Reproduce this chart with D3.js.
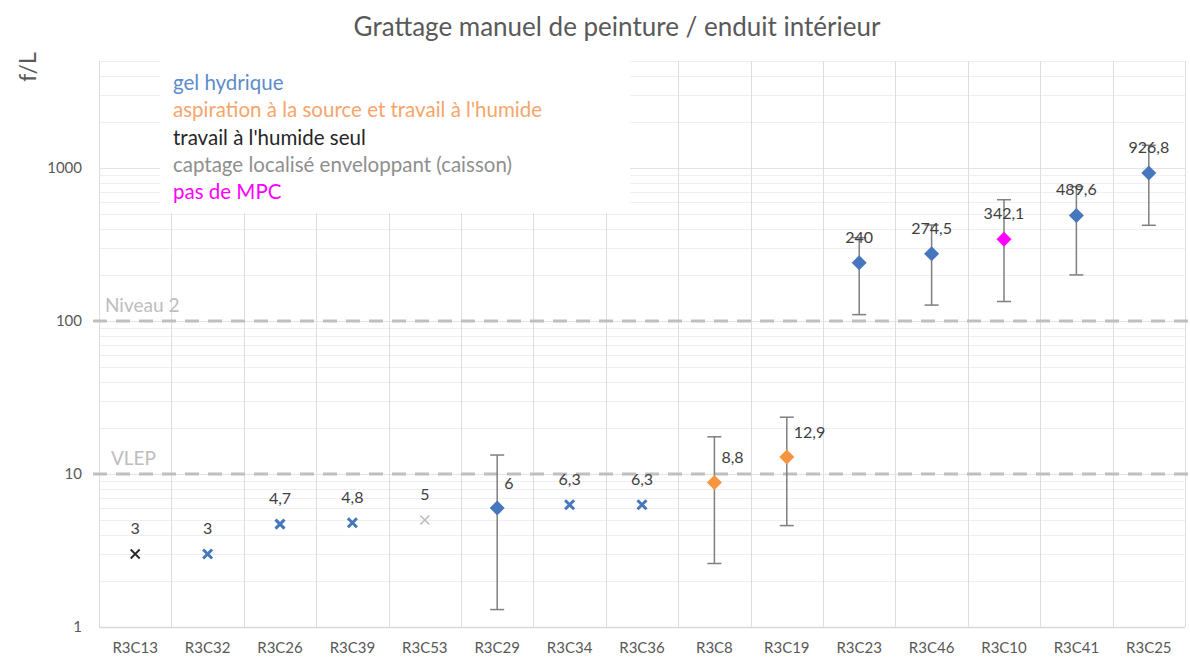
<!DOCTYPE html>
<html><head><meta charset="utf-8">
<script src="https://cdn.jsdelivr.net/npm/d3@7"></script>
<style>
html,body{margin:0;padding:0;background:#fff;}
text{font-family:Lato,"Open Sans",sans-serif;}
</style></head>
<body><svg id="chart" width="1190" height="658"></svg>
<script>
// ---- data ----
const title = "Grattage manuel de peinture / enduit intérieur";
const yLabel = "f/L";
const categories = ["R3C13","R3C32","R3C26","R3C39","R3C53","R3C29","R3C34","R3C36","R3C8","R3C19","R3C23","R3C46","R3C10","R3C41","R3C25"];
const values     = [3, 3, 4.7, 4.8, 5, 6, 6.3, 6.3, 8.8, 12.9, 240, 274.5, 342.1, 489.6, 926.8];
const groups     = ["humide","gel","gel","gel","caisson","gel","gel","gel","aspiration","aspiration","gel","gel","aucune","gel","gel"];
const markerType = ["x","x","x","x","x","diamond","x","x","diamond","diamond","diamond","diamond","diamond","diamond","diamond"];
const errLow     = [null,null,null,null,null,1.3,null,null,2.6,4.6,110,127,134,200,422];
const errHigh    = [null,null,null,null,null,13.3,null,null,17.5,23.5,350,424,620,755,1407];
const yTicks = [1, 10, 100, 1000];
const refLines = [{value:10, label:"VLEP"}, {value:100, label:"Niveau 2"}];
const legendKeys   = ["gel","aspiration","humide","caisson","aucune"];
const legendLabels = ["gel hydrique","aspiration à la source et travail à l'humide","travail à l'humide seul","captage localisé enveloppant (caisson)","pas de MPC"];

// ---- styles ----
const markColor = {gel:"#4677bd", aspiration:"#f79440", humide:"#262626", caisson:"#bcbcbc", aucune:"#ff00ff"};
const legendColor = {gel:"#5d8bcc", aspiration:"#f6a56b", humide:"#262626", caisson:"#8f8f8f", aucune:"#ff00ff"};

const svg = d3.select("#chart");
const pLeft = 99, pRight = 1185, pTop = 61, pBottom = 627;

const x = d3.scaleBand().domain(categories).range([pLeft, pRight]).padding(0);
const y = d3.scaleLog().domain([1, 5000]).range([pBottom, pTop]);

// horizontal gridlines (minor + major)
const gridVals = [];
for (let d = 1; d <= 1000; d *= 10) for (let m = 1; m <= 9; m++) { const v = d*m; if (v <= 5000) gridVals.push(v); }
svg.append("g").selectAll("line").data(gridVals).join("line")
  .attr("x1", pLeft).attr("x2", pRight)
  .attr("y1", d => Math.round(y(d))+0.5).attr("y2", d => Math.round(y(d))+0.5)
  .attr("stroke", d => yTicks.includes(d) ? "#e3e3e3" : "#efefef").attr("stroke-width", 1);

// vertical category gridlines
const bounds = categories.map(c => x(c)).concat([pRight]);
svg.append("g").selectAll("line").data(bounds).join("line")
  .attr("x1", d => Math.round(d)+0.5).attr("x2", d => Math.round(d)+0.5)
  .attr("y1", pTop).attr("y2", pBottom)
  .attr("stroke", "#dedede").attr("stroke-width", 1);

// bottom axis line
svg.append("line").attr("x1", pLeft).attr("x2", pRight).attr("y1", pBottom+0.5).attr("y2", pBottom+0.5)
  .attr("stroke", "#d9d9d9").attr("stroke-width", 1.5);

// legend box (white, covers the gridlines)
const lg = svg.append("g");
lg.append("rect").attr("x", 160).attr("y", pTop).attr("width", 470).attr("height", 152).attr("fill", "#fff");
lg.selectAll("text").data(legendKeys).join("text")
  .attr("x", 173).attr("y", (d,i) => 90 + i*27.3)
  .attr("font-size", 20.5).attr("fill", d => legendColor[d])
  .text((d,i) => legendLabels[i]);

// reference lines
svg.append("g").selectAll("line").data(refLines).join("line")
  .attr("x1", 93).attr("x2", 1190)
  .attr("y1", d => y(d.value)).attr("y2", d => y(d.value))
  .attr("stroke", "#bfbfbf").attr("stroke-width", 3).attr("stroke-dasharray", "14,9");
svg.append("g").selectAll("text").data(refLines).join("text")
  .attr("x", d => d.label === "VLEP" ? 111 : 105)
  .attr("y", d => y(d.value) - 9)
  .attr("font-size", 19).attr("fill", "#bdbdbd").text(d => d.label);

// y axis tick labels
svg.append("g").selectAll("text").data(yTicks).join("text")
  .attr("x", 82).attr("y", d => y(d) + 5).attr("text-anchor", "end")
  .attr("font-size", 15).attr("fill", "#595959").text(d => d);

// x axis labels
svg.append("g").selectAll("text").data(categories).join("text")
  .attr("x", d => x(d) + x.bandwidth()/2).attr("y", 653).attr("text-anchor", "middle")
  .attr("font-size", 15).attr("fill", "#595959").text(d => d);

// title and y label
svg.append("text").attr("x", 617).attr("y", 36).attr("text-anchor", "middle")
  .attr("font-size", 26).attr("fill", "#595959").text(title);
svg.append("text").attr("transform", "translate(36,67) rotate(-90)").attr("text-anchor", "middle")
  .attr("font-size", 23).attr("fill", "#595959").text(yLabel);

// points
const pts = categories.map((c,i) => ({c, v: values[i], g: groups[i], m: markerType[i], lo: errLow[i], hi: errHigh[i]}));
const cx = d => x(d.c) + x.bandwidth()/2;

// error bars
const eb = svg.append("g").selectAll("g").data(pts.filter(d => d.lo != null)).join("g")
  .attr("stroke", "#7f7f7f").attr("stroke-width", 1.5);
eb.append("line").attr("x1", cx).attr("x2", cx).attr("y1", d => y(d.lo)).attr("y2", d => y(d.hi));
eb.append("line").attr("x1", d => cx(d)-7).attr("x2", d => cx(d)+7).attr("y1", d => y(d.lo)).attr("y2", d => y(d.lo));
eb.append("line").attr("x1", d => cx(d)-7).attr("x2", d => cx(d)+7).attr("y1", d => y(d.hi)).attr("y2", d => y(d.hi));

// markers
const mk = svg.append("g").selectAll("g").data(pts).join("g")
  .attr("transform", d => `translate(${cx(d)},${y(d.v)})`);
mk.filter(d => d.m === "diamond").append("path")
  .attr("d", "M0,-7.5L7.5,0L0,7.5L-7.5,0Z").attr("fill", d => markColor[d.g]);
mk.filter(d => d.m === "x").append("path")
  .attr("d", "M-4.5,-4.5L4.5,4.5M-4.5,4.5L4.5,-4.5")
  .attr("stroke", d => markColor[d.g])
  .attr("stroke-width", d => d.g === "gel" ? 3 : (d.g === "humide" ? 1.8 : 1.6))
  .attr("fill", "none");

// data labels
const fmt = v => String(v).replace(".", ",");
svg.append("g").selectAll("text").data(pts).join("text")
  .attr("x", d => (d.m === "diamond" && d.v < 100) ? cx(d) + 7 : cx(d))
  .attr("y", d => (d.m === "diamond" && d.v < 100) ? y(d.v) - 19 : y(d.v) - 20)
  .attr("text-anchor", d => (d.m === "diamond" && d.v < 100) ? "start" : "middle")
  .attr("font-size", 16).attr("fill", "#404040").text(d => fmt(d.v));
</script>
</body></html>
